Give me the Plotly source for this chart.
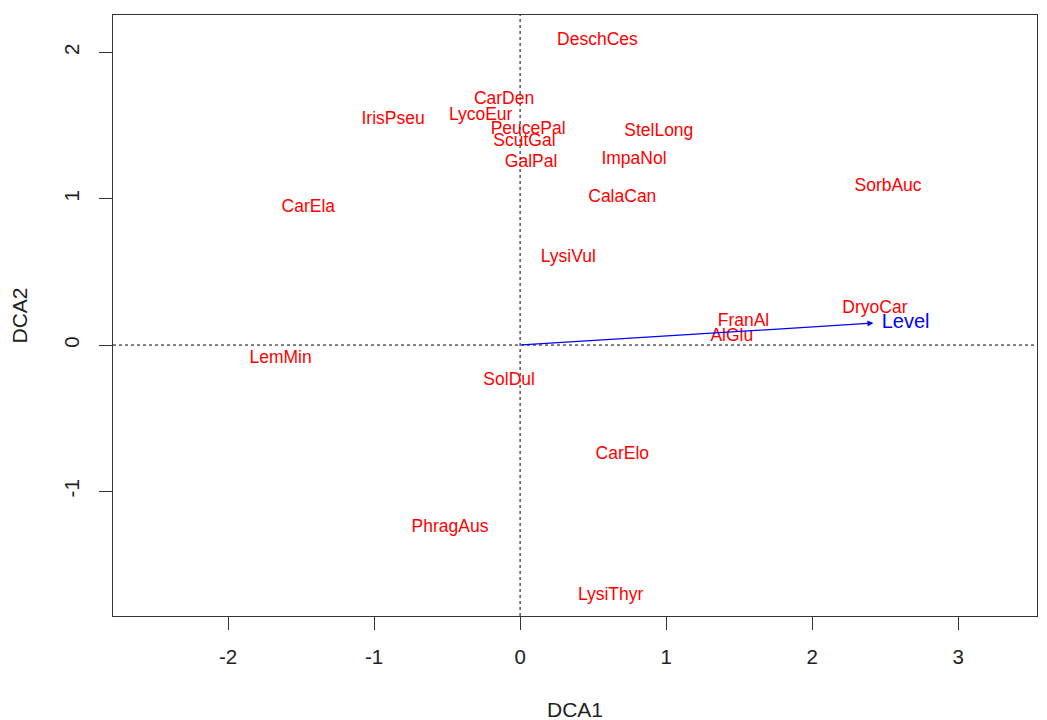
import plotly.graph_objects as go

species = ["DeschCes", "CarDen", "IrisPseu", "LycoEur", "PeucePal", "ScutGal", "GalPal",
           "StelLong", "ImpaNol", "CalaCan", "SorbAuc", "CarEla", "LysiVul", "DryoCar",
           "FranAl", "AlGlu", "LemMin", "SolDul", "CarElo", "PhragAus", "LysiThyr"]
dca1 = [0.53, -0.11, -0.87, -0.27, 0.055, 0.03, 0.075,
        0.95, 0.78, 0.70, 2.52, -1.45, 0.33, 2.43,
        1.53, 1.45, -1.64, -0.075, 0.70, -0.48, 0.62]
dca2 = [2.08, 1.68, 1.54, 1.57, 1.47, 1.39, 1.25,
        1.46, 1.27, 1.005, 1.08, 0.94, 0.595, 0.25,
        0.157, 0.055, -0.096, -0.246, -0.75, -1.25, -1.716]

env_name = ["Level"]
env_x = [2.42]
env_y = [0.15]
env_label_x = [2.64]
env_label_y = [0.152]

x_ticks = [-2, -1, 0, 1, 2, 3]
y_ticks = [-1, 0, 1, 2]
x_range = [-2.788, 3.54]
y_range = [-1.852, 2.256]

FONT = "Liberation Sans, Arial, sans-serif"

fig = go.Figure()

# dotted reference lines
fig.add_trace(go.Scatter(x=x_range, y=[0, 0], mode="lines",
                         line=dict(color="black", width=1, dash="dot"),
                         hoverinfo="skip", showlegend=False))
fig.add_trace(go.Scatter(x=[0, 0], y=y_range, mode="lines",
                         line=dict(color="black", width=1, dash="dot"),
                         hoverinfo="skip", showlegend=False))

# species labels
fig.add_trace(go.Scatter(x=dca1, y=dca2, mode="text", text=species,
                         textposition="middle center",
                         textfont=dict(family=FONT, size=17.5, color="#ff0000"),
                         showlegend=False))

# environmental arrow
for i in range(len(env_name)):
    fig.add_annotation(x=env_x[i], y=env_y[i], ax=0, ay=0,
                       xref="x", yref="y", axref="x", ayref="y",
                       showarrow=True, arrowhead=2, arrowsize=1, arrowwidth=1.2,
                       arrowcolor="#0000ff", text="")
fig.add_trace(go.Scatter(x=env_label_x, y=env_label_y, mode="text", text=env_name,
                         textposition="middle center",
                         textfont=dict(family=FONT, size=20, color="#0000ff"),
                         showlegend=False))

axis_common = dict(showgrid=False, zeroline=False, showline=True, mirror=True,
                   linecolor="#333333", linewidth=1.3,
                   ticks="outside", ticklen=13, tickwidth=1.3, tickcolor="#333333",
                   tickfont=dict(family=FONT, size=20.5, color="#222222"))

fig.update_xaxes(range=x_range, tickvals=x_ticks, ticktext=[str(v) for v in x_ticks],
                 ticklabelstandoff=9,
                 title=dict(text="DCA1", font=dict(family=FONT, size=21, color="#222222"),
                            standoff=35),
                 **axis_common)
fig.update_yaxes(range=y_range, tickvals=y_ticks, ticktext=[str(v) for v in y_ticks],
                 tickangle=-90, ticklabelstandoff=12,
                 title=dict(text="DCA2", font=dict(family=FONT, size=21, color="#222222"),
                            standoff=26),
                 **axis_common)

fig.update_layout(width=1033, height=713,
                  margin=dict(l=105, r=4, t=7, b=105, autoexpand=False),
                  plot_bgcolor="white", paper_bgcolor="white",
                  showlegend=False)

fig.write_html("out.html")
